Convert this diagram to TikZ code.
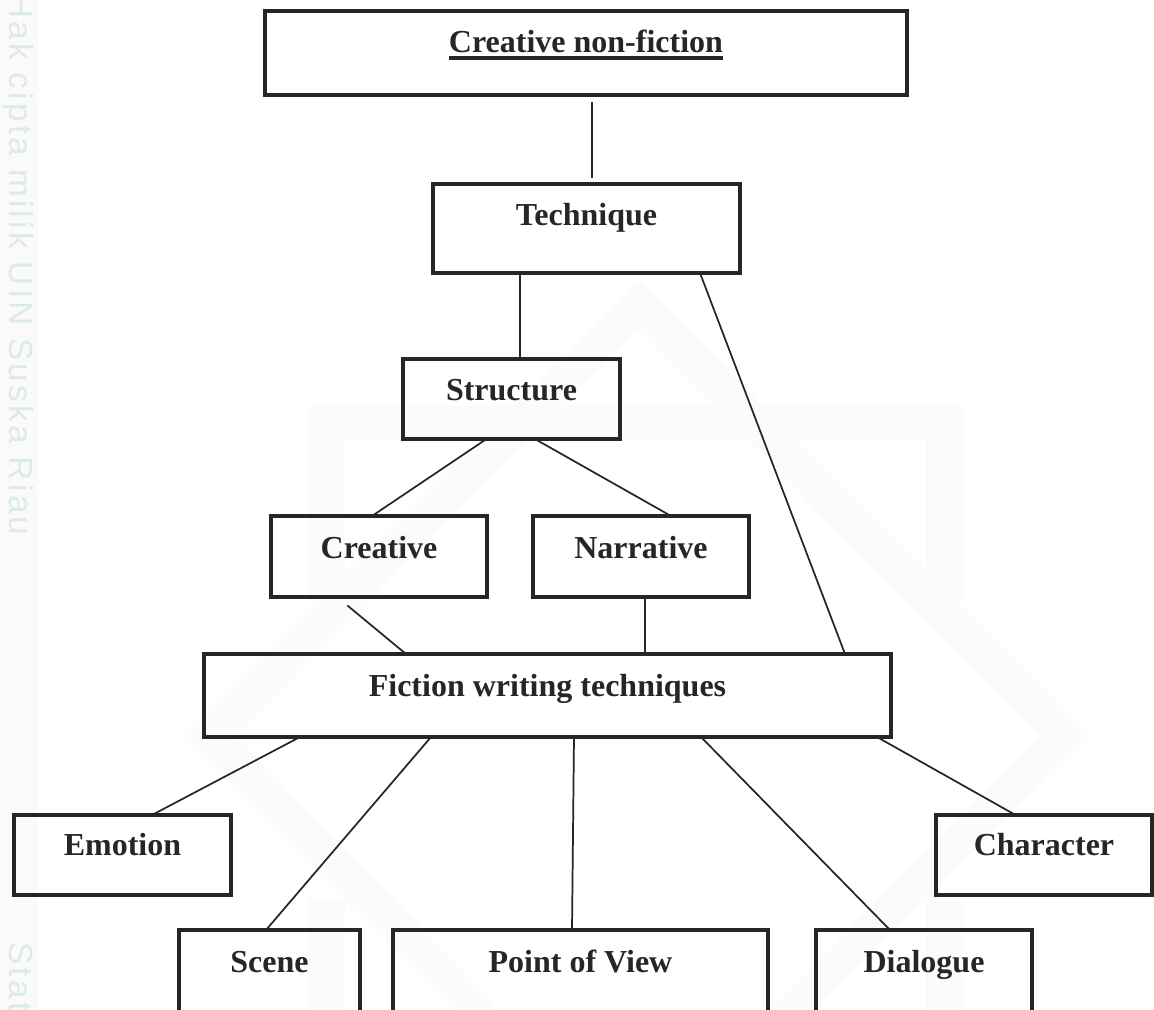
\documentclass[tikz,border=0pt]{standalone}
\usepackage{fontspec}
\setmainfont{Liberation Serif}
\newfontfamily\wmfont[LetterSpace=10]{Liberation Sans}
\usetikzlibrary{calc}
\definecolor{ink}{HTML}{262626}
\definecolor{wmgreen}{HTML}{DCEBE6}
\definecolor{wmband}{HTML}{FAFAFA}
\definecolor{wmlogo}{HTML}{FBFBFA}
\tikzset{
  bx/.style={draw=ink,line width=3pt,rectangle,inner sep=0pt,outer sep=0pt,align=center,text=ink,font=\fontsize{24}{28}\selectfont\bfseries},
  conn/.style={draw=ink,line width=1.3pt},
  wm/.style={text=wmgreen,rotate=-90,anchor=base west,inner sep=0pt,font=\fontsize{25}{29}\wmfont},
  logo/.style={fill=wmlogo,draw=none}
}
% name, x0, y0, x1, y1, baseline, text
\newcommand\Bx[7]{%
  \pgfmathsetmacro\bxw{(#4-#2-4)*0.75}%
  \pgfmathsetmacro\bxh{(#6-#3-2)*0.75}%
  \pgfmathsetmacro\bxd{(#5-#6-2)*0.75}%
  \node[bx,anchor=north west,minimum width=\bxw pt,text height=\bxh pt,text depth=\bxd pt] (#1) at (#2+2,#3+2) {#7};%
}
\newcommand\thickul[1]{\vtop{\hbox{#1}\kern 3pt\hrule height 3pt}}
\begin{document}
\begin{tikzpicture}[x=0.75pt,y=-0.75pt]
\clip (0,0) rectangle (1154,1010);
\fill[white] (0,0) rectangle (1154,1010);
\fill[wmband] (0,0) rectangle (38,1010);
% faint emblem behind the diagram
\fill[logo,even odd rule] (638,280) -- (1091,736) -- (812,1010) -- (770,1010) -- (1040,736) -- (638,329) -- (236,736) -- (500,1010) -- (455,1010) -- (181,736) -- cycle;
\fill[logo] (308,405) rectangle (963,440);
\fill[logo] (308,405) rectangle (345,600);
\fill[logo] (926,405) rectangle (963,600);
\fill[logo] (308,900) rectangle (345,1010);
\fill[logo] (926,900) rectangle (963,1010);
\node[wm] (wma) at (9,-6) {Hak cipta milik UIN Suska Riau};
\node[wm] (wmb) at (9,942) {State};
\Bx{top}{263}{9}{909}{97}{52}{\thickul{Creative non-fiction}}
\Bx{tech}{431}{182}{742}{275}{225}{Technique}
\Bx{struc}{401}{357}{622}{441}{400}{Structure}
\Bx{crea}{269}{514}{489}{599}{558}{Creative}
\Bx{narr}{531}{514}{751}{599}{558}{Narrative}
\Bx{fict}{202}{652}{893}{739}{696}{Fiction writing techniques}
\Bx{emo}{12}{813}{233}{897}{855}{Emotion}
\Bx{char}{934}{813}{1154}{897}{855}{Character}
\Bx{scene}{177}{928}{362}{1040}{972}{Scene}
\Bx{pov}{391}{928}{770}{1040}{972}{Point of View}
\Bx{dial}{814}{928}{1034}{1040}{972}{Dialogue}
\draw[conn] ($(top.south)+(6,7)$) -- ($(tech.north)+(5.5,-6)$);
\draw[conn] ($(tech.south)+(-66.5,0)$) -- ($(struc.north)+(8.5,0)$);
\draw[conn] ($(tech.south)+(113.5,0)$) -- ($(fict.north)+(297.5,0)$);
\draw[conn] ($(struc.south)+(-25,0)$) -- ($(crea.north)+(-7,0)$);
\draw[conn] ($(struc.south)+(23.5,0)$) -- ($(narr.north)+(30,0)$);
\draw[conn] ($(crea.south)+(-31.6,8.5)$) -- ($(fict.north)+(-141.5,0)$);
\draw[conn] ($(narr.south)+(4,0)$) -- ($(fict.north)+(97.5,0)$);
\draw[conn] ($(fict.south)+(-247.5,0)$) -- ($(emo.north)+(29.5,0)$);
\draw[conn] ($(fict.south)+(-116.5,0)$) -- ($(scene.north)+(-3.5,0)$);
\draw[conn] ($(fict.south)+(26.5,0)$) -- ($(pov.north)+(-8.5,0)$);
\draw[conn] ($(fict.south)+(153.5,0)$) -- ($(dial.north)+(-34,0)$);
\draw[conn] ($(fict.south)+(329.5,0)$) -- ($(char.north)+(-28.5,0)$);
\end{tikzpicture}
\end{document}
